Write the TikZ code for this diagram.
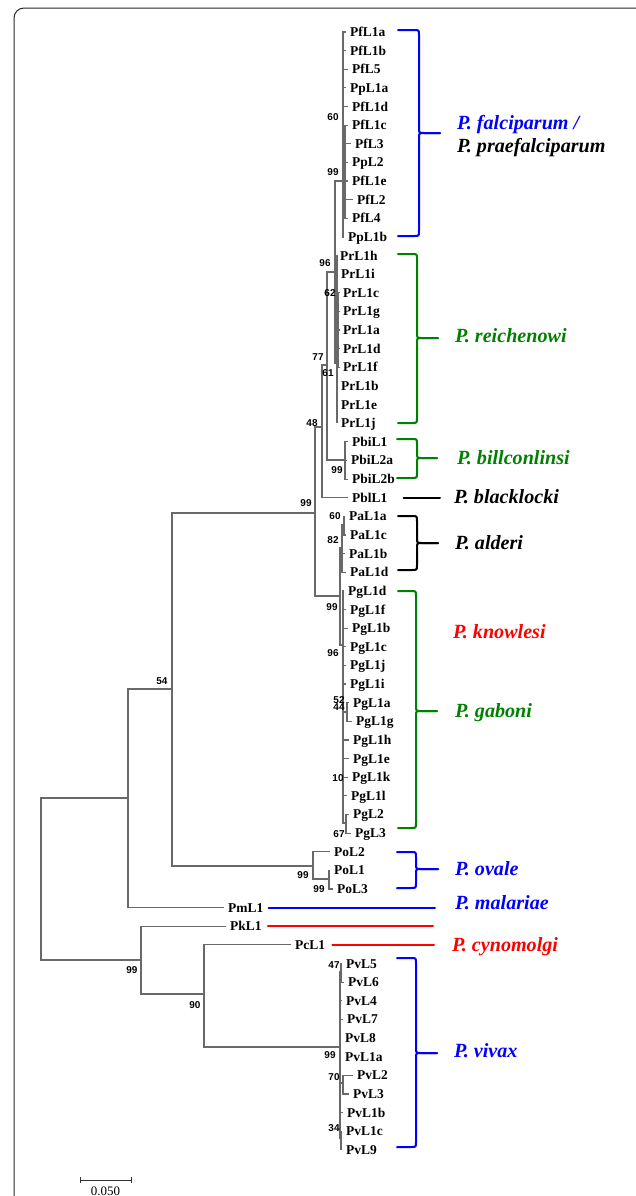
\documentclass[tikz,border=0pt]{standalone}
\usepackage{fontspec}
\setmainfont{Liberation Serif}
\newfontfamily\bootfont{Liberation Sans}
\definecolor{cladeblue}{RGB}{0,0,255}
\definecolor{cladegreen}{RGB}{0,128,0}
\definecolor{cladered}{RGB}{255,0,0}
\definecolor{treegray}{RGB}{105,105,105}
\tikzset{
  branch/.style={draw=treegray, line width=1.2bp},
  taxon/.style={anchor=west, inner xsep=4bp, inner ysep=0pt, text height=9bp, text depth=0pt,
    font=\fontsize{13.5}{14}\selectfont\bfseries},
  boot/.style={inner sep=0pt, text height=7bp, text depth=0pt,
    font=\bootfont\fontsize{10}{11}\selectfont\bfseries},
  species/.style={anchor=west, inner sep=0pt, text height=13bp, text depth=0pt,
    font=\fontsize{20.2}{21}\selectfont\bfseries\itshape},
  bracket/.style={line width=2bp, line cap=round},
}
% curly bracket: colour, left end x, spine x, tip x, top y, tip y, bottom y
\newcommand\cladebrace[7]{%
  \draw[bracket,#1] (#2,#5) -- ({#3-5},#5) .. controls (#3,#5) .. (#3,{#5+5})
    -- (#3,{#6-5}) .. controls (#3,#6) .. ({#3+5},#6) -- (#4,#6);
  \draw[bracket,#1] (#4,#6) -- ({#3+5},#6) .. controls (#3,#6) .. (#3,{#6+5})
    -- (#3,{#7-5}) .. controls (#3,#7) .. ({#3-5},#7) -- (#2,#7);}
\begin{document}
\begin{tikzpicture}[x=1bp,y=-1bp]
\useasboundingbox (0,0) rectangle (636,1196);
% frame
\draw[black!85, line width=1bp, rounded corners=10bp] (14,1196) -- (14,8) -- (636,8);

% taxa: name / west x / row
\foreach \nm/\xx/\rr in {
  PfL1a/346/0, PfL1b/346/1, PfL5/348/2, PpL1a/346/3, PfL1d/348/4, PfL1c/348/5,
  PfL3/351/6, PpL2/348/7, PfL1e/348/8, PfL2/353/9, PfL4/348/10, PpL1b/344/11,
  PrL1h/336/12, PrL1i/337/13, PrL1c/339/14, PrL1g/339/15, PrL1a/339/16, PrL1d/339/17,
  PrL1f/339/18, PrL1b/337/19, PrL1e/337/20, PrL1j/337/21,
  PbiL1/348/22, PbiL2a/347/23, PbiL2b/348/24, PblL1/348/25,
  PaL1a/345/26, PaL1c/346/27, PaL1b/345/28, PaL1d/346/29,
  PgL1d/344/30, PgL1f/346/31, PgL1b/348/32, PgL1c/346/33, PgL1j/346/34, PgL1i/346/35,
  PgL1a/349/36, PgL1g/352/37, PgL1h/349/38, PgL1e/349/39, PgL1k/348/40, PgL1l/347/41,
  PgL2/349/42, PgL3/351/43,
  PoL2/330/44, PoL1/330/45, PoL3/333/46,
  PmL1/224/47, PkL1/226/48, PcL1/291/49,
  PvL5/342/50, PvL6/344/51, PvL4/342/52, PvL7/343/53, PvL8/341/54, PvL1a/341/55,
  PvL2/353/56, PvL3/349/57, PvL1b/343/58, PvL1c/342/59, PvL9/342/60}
  \node[taxon] (\nm) at (\xx,{32+18.63*\rr}) {\nm};

% internal nodes
\coordinate (root) at (41,879);
\coordinate (n1) at (128,798);
\coordinate (n54) at (172,689);
\coordinate (nA) at (315,513);
\coordinate (nB) at (322,427);
\coordinate (nD) at (327,365);
\coordinate (nE) at (335,272);
\coordinate (nPf) at (343,181);
\coordinate (nPf60) at (345,171);
\coordinate (nPr) at (337,363);
\coordinate (nPr62) at (338.5,330);
\coordinate (nPbi) at (345,460);
\coordinate (nC) at (340,596);
\coordinate (nPa) at (342,548);
\coordinate (nPa60) at (344,525);
\coordinate (nPg) at (343,645);
\coordinate (nPg52) at (347,712);
\coordinate (nPg67) at (346,823);
\coordinate (nPo) at (313,866);
\coordinate (nPo2) at (329,879);
\coordinate (nK) at (141,960);
\coordinate (n90) at (204,994);
\coordinate (nPv) at (340,1047);
\coordinate (nPv47) at (341,972);
\coordinate (nPv70) at (343,1083);
\coordinate (nPv34) at (341,1138);

% branches
\foreach \pa/\kids in {
  root/{n1,nK}, n1/{n54,PmL1.west}, n54/{nA,nPo}, nA/{nB,nC}, nB/{nD,PblL1.west},
  nD/{nE,nPbi}, nE/{nPf,nPr},
  nPf/{PfL1a.west,PfL1b.west,PfL5.west,PpL1a.west,PfL1d.west,nPf60,PpL1b.west},
  nPf60/{PfL1c.west,PfL3.west,PpL2.west,PfL1e.west,PfL2.west,PfL4.west},
  nPr/{PrL1h.west,PrL1i.west,nPr62,PrL1b.west,PrL1e.west,PrL1j.west},
  nPr62/{PrL1c.west,PrL1g.west,PrL1a.west,PrL1d.west,PrL1f.west},
  nPbi/{PbiL1.west,PbiL2a.west,PbiL2b.west},
  nC/{nPa,nPg}, nPa/{nPa60,PaL1b.west,PaL1d.west}, nPa60/{PaL1a.west,PaL1c.west},
  nPg/{PgL1d.west,PgL1f.west,PgL1b.west,PgL1c.west,PgL1j.west,PgL1i.west,nPg52,
       PgL1h.west,PgL1e.west,PgL1k.west,PgL1l.west,nPg67},
  nPg52/{PgL1a.west,PgL1g.west}, nPg67/{PgL2.west,PgL3.west},
  nPo/{PoL2.west,nPo2}, nPo2/{PoL1.west,PoL3.west},
  nK/{PkL1.west,n90}, n90/{PcL1.west,nPv},
  nPv/{nPv47,PvL4.west,PvL7.west,PvL8.west,PvL1a.west,nPv70,PvL1b.west,nPv34},
  nPv47/{PvL5.west,PvL6.west}, nPv70/{PvL2.west,PvL3.west}, nPv34/{PvL1c.west,PvL9.west}}
  \foreach \ch in \kids
    \draw[branch] (\pa) |- (\ch);

% bootstrap values
\foreach \bx/\by/\bv in {
  333/117/60, 333/172/99, 325/263/96, 330/293/62, 318/357/77, 328/373/61,
  312/423/48, 337/470/99, 306/503/99, 335/516/60, 333/540/82, 332/607/99,
  333/653/96, 339/700/52, 339/707/44, 338/778/10, 339/834/67, 162/681/54,
  303/875/99, 319/889/99, 132/970/99, 195/1005/90, 334/965/47, 330/1055/99,
  334/1077/70, 334/1128/34}
  \node[boot] at (\bx,\by) {\bv};

% species names
\node[species, text=cladeblue] (falc) at (457,123) {P. falciparum /};
\node[species] (praef) at (457,146) {P. praefalciparum};
\node[species, text=cladegreen] (reich) at (455,336) {P. reichenowi};
\node[species, text=cladegreen] (billc) at (457,458) {P. billconlinsi};
\node[species] (blackl) at (454,497) {P. blacklocki};
\node[species] (alderi) at (455,543) {P. alderi};
\node[species, text=cladered] (knowl) at (453,632) {P. knowlesi};
\node[species, text=cladegreen] (gaboni) at (455,711) {P. gaboni};
\node[species, text=cladeblue] (ovale) at (455,869) {P. ovale};
\node[species, text=cladeblue] (malar) at (455,903) {P. malariae};
\node[species, text=cladered] (cynom) at (452,945) {P. cynomolgi};
\node[species, text=cladeblue] (vivax) at (454,1051) {P. vivax};

% clade brackets
\cladebrace{cladeblue}{398}{419}{440}{30}{133}{236}
\cladebrace{cladegreen}{398}{417}{438}{254}{338}{423}
\cladebrace{cladegreen}{397}{417}{437}{439}{458}{478}
\cladebrace{black}{398}{417}{438}{516}{543}{570}
\cladebrace{cladegreen}{398}{416}{437}{591}{711}{828}
\cladebrace{cladeblue}{397}{416}{438}{852}{869}{888}
\cladebrace{cladeblue}{397}{416}{437}{958}{1053}{1147}

% single-sequence markers
\coordinate (bEnd) at (440,0);
\coordinate (mEnd) at (435,0);
\coordinate (kEnd) at (433,0);
\coordinate (cEnd) at (434,0);
\draw[bracket] ([xshift=12bp]PblL1.east) -- (PblL1.east -| bEnd);
\draw[bracket, cladeblue] ([xshift=1bp]PmL1.east) -- (PmL1.east -| mEnd);
\draw[bracket, cladered] ([xshift=2bp]PkL1.east) -- (PkL1.east -| kEnd);
\draw[bracket, cladered] ([xshift=3bp]PcL1.east) -- (PcL1.east -| cEnd);

% scale bar
\coordinate (sbL) at (80,1180);
\coordinate (sbR) at (131,1180);
\draw[black!80, line width=1bp] (sbL) -- (sbR);
\draw[black!80, line width=1bp] ([yshift=3bp]sbL) -- ([yshift=-3bp]sbL);
\draw[black!80, line width=1bp] ([yshift=3bp]sbR) -- ([yshift=-3bp]sbR);
\node[inner sep=0pt, font=\fontsize{13}{14}\selectfont] (sbT) at (105.5,1191) {0.050};
\end{tikzpicture}
\end{document}
